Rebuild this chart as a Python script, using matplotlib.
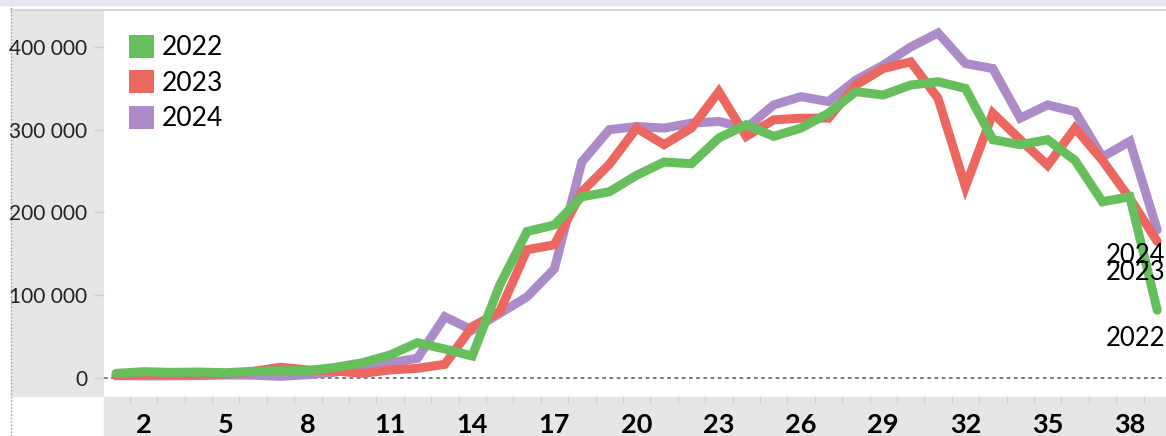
import matplotlib
matplotlib.use("Agg")
import matplotlib.pyplot as plt
from matplotlib.patches import Patch, Rectangle
from matplotlib.lines import Line2D
from matplotlib.ticker import FuncFormatter

plt.rcParams["font.family"] = ["Lato", "DejaVu Sans"]

# --- data ---
weeks = list(range(1, 40))

y2022 = [5600, 7600, 6800, 7200, 6400, 8000, 8800, 8800, 12900, 18500,
         27800, 42700, 35000, 26600, 112000, 177000, 185000, 219000, 225000, 245000,
         261000, 259000, 290000, 306000, 292000, 302000, 320000, 346000, 342000, 354000,
         358000, 350000, 288000, 282000, 288000, 263000, 213000, 219000, 82000]

y2023 = [3000, 4000, 4000, 4500, 5000, 8000, 13000, 9700, 8500, 5600,
         9700, 11700, 16500, 62000, 80000, 155000, 161000, 225000, 258000, 302000,
         282000, 302000, 346000, 292000, 312000, 314000, 314000, 354000, 374000, 382000,
         338000, 231000, 320000, 288000, 257000, 302000, 263000, 217000, 165000]

y2024 = [2800, 2500, 2500, 3000, 3500, 3500, 2000, 4000, 7000, 13700,
         18500, 23800, 74000, 58000, 78000, 98000, 132000, 261000, 300000, 304000,
         302000, 308000, 310000, 302000, 330000, 340000, 334000, 360000, 378000, 400000,
         417000, 380000, 374000, 314000, 330000, 322000, 267000, 286000, 179000]

series_names = ["2022", "2023", "2024"]
colors = {"2022": "#66bf5c", "2023": "#ec6760", "2024": "#ad8bc9"}
x_tick_weeks = [2, 5, 8, 11, 14, 17, 20, 23, 26, 29, 32, 35, 38]
y_ticks = [0, 100000, 200000, 300000, 400000]

W, H = 1166, 436
fig = plt.figure(figsize=(W / 100, H / 100), dpi=100)

# background panels (pixel coords -> figure fraction)
def rect(x0, y0, x1, y1, color):
    fig.patches.append(Rectangle((x0 / W, 1 - y1 / H), (x1 - x0) / W, (y1 - y0) / H,
                                 transform=fig.transFigure, color=color, zorder=-5))

rect(0, 0, W, 5, "#e4e8ec")
rect(11, 10, 104, 396, "#e6e6e6")
rect(104, 397, W, H, "#e6e6e6")
fig.add_artist(Line2D([11 / W, 1], [1 - 10.5 / H] * 2, transform=fig.transFigure,
                      color="#d6d6d6", lw=1.5, zorder=-4))
fig.add_artist(Line2D([11 / W] * 2, [0, 1 - 5 / H], transform=fig.transFigure,
                      color="#9a9a9a", lw=1, ls=(0, (1, 1.5)), zorder=-4))

ax = fig.add_axes([104 / W, 1 - 396 / H, (W - 104) / W, 385 / H])
ax.set_zorder(2)
ax.set_xlim(0.562, 39.32)
ax.set_ylim(-21750, 443500)
ax.set_facecolor("white")
for s in ax.spines.values():
    s.set_visible(False)

ax.axhline(0, color="#6e6e6e", lw=1.3, ls=(0, (2, 2)), zorder=1)

data = {"2022": y2022, "2023": y2023, "2024": y2024}
for name in ["2024", "2023", "2022"]:
    ax.plot(weeks, data[name], color=colors[name], lw=6.5,
            solid_joinstyle="miter", solid_capstyle="round", zorder=2)

# end labels
end_offsets = {"2024": -26, "2023": -31, "2022": -28}
for name in series_names:
    ax.annotate(name, xy=(weeks[-1], data[name][-1]), xytext=(-51, end_offsets[name]),
                textcoords="offset pixels", ha="left", va="center",
                fontsize=18.5, color="black", annotation_clip=False)

# y axis
ax.set_yticks(y_ticks)
ax.yaxis.set_major_formatter(FuncFormatter(lambda v, p: f"{int(v):,}".replace(",", " ")))
ax.tick_params(axis="y", length=7, width=1, color="#d0d0d0", pad=5,
               labelsize=15, labelcolor="#222222")

# x axis
ax.set_xticks(x_tick_weeks)
ax.set_xticks([w + 0.5 for w in weeks[:-1]], minor=True)
ax.tick_params(axis="x", which="major", length=0, pad=12, labelsize=19.5)
ax.tick_params(axis="x", which="minor", length=5, width=1, color="#d0d0d0")
for t in ax.get_xticklabels():
    t.set_fontweight("bold")

handles = [Patch(facecolor=colors[n], edgecolor="none") for n in series_names]
ax.legend(handles, series_names, loc="upper left",
          bbox_to_anchor=(129 / W, 1 - 35 / H), bbox_transform=fig.transFigure,
          frameon=False, fontsize=19, handlelength=0.95, handleheight=0.95,
          handletextpad=0.3, labelspacing=0.38, borderpad=0, borderaxespad=0)

fig.savefig("out.png", dpi=100)
